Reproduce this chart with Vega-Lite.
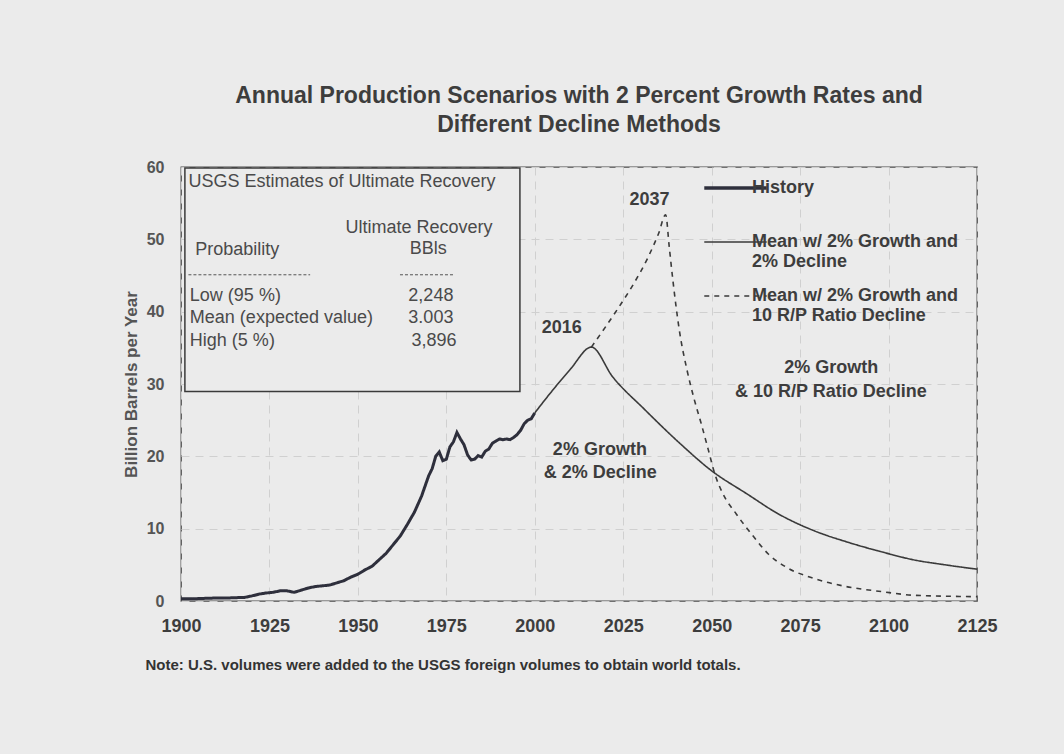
{
  "$schema": "https://vega.github.io/schema/vega-lite/v6.json",
  "width": 796,
  "height": 434,
  "autosize": {"type": "none"},
  "padding": {"left": 181, "top": 167, "right": 87, "bottom": 153},
  "background": "#ebebeb",
  "title": {
    "text": ["Annual Production Scenarios with 2 Percent Growth Rates and", "Different Decline Methods"],
    "font": "Liberation Sans",
    "fontSize": 23,
    "fontWeight": "bold",
    "color": "#3d3d3d",
    "anchor": "middle",
    "offset": 22,
    "lineHeight": 29
  },
  "config": {
    "font": "Liberation Sans",
    "view": {"stroke": "#4a4a4a", "strokeWidth": 1.3, "fill": "#ebebeb"},
    "legend": {"symbolSize": 3900, "symbolType": "stroke"}
  },
  "datasets": {
    "history": [
      {"series": "History", "year": 1900, "value": 0.3},
      {"series": "History", "year": 1903, "value": 0.3},
      {"series": "History", "year": 1906, "value": 0.35},
      {"series": "History", "year": 1909, "value": 0.4},
      {"series": "History", "year": 1912, "value": 0.4},
      {"series": "History", "year": 1915, "value": 0.45},
      {"series": "History", "year": 1918, "value": 0.5},
      {"series": "History", "year": 1920, "value": 0.7},
      {"series": "History", "year": 1922, "value": 0.95},
      {"series": "History", "year": 1924, "value": 1.1},
      {"series": "History", "year": 1926, "value": 1.2},
      {"series": "History", "year": 1928, "value": 1.4},
      {"series": "History", "year": 1930, "value": 1.4},
      {"series": "History", "year": 1932, "value": 1.2},
      {"series": "History", "year": 1934, "value": 1.5},
      {"series": "History", "year": 1936, "value": 1.8},
      {"series": "History", "year": 1938, "value": 2.0},
      {"series": "History", "year": 1940, "value": 2.1},
      {"series": "History", "year": 1942, "value": 2.2},
      {"series": "History", "year": 1944, "value": 2.5},
      {"series": "History", "year": 1946, "value": 2.8},
      {"series": "History", "year": 1948, "value": 3.3},
      {"series": "History", "year": 1950, "value": 3.7},
      {"series": "History", "year": 1952, "value": 4.3},
      {"series": "History", "year": 1954, "value": 4.8},
      {"series": "History", "year": 1956, "value": 5.7},
      {"series": "History", "year": 1958, "value": 6.6},
      {"series": "History", "year": 1960, "value": 7.8},
      {"series": "History", "year": 1962, "value": 9.0},
      {"series": "History", "year": 1964, "value": 10.6},
      {"series": "History", "year": 1966, "value": 12.3},
      {"series": "History", "year": 1968, "value": 14.5},
      {"series": "History", "year": 1970, "value": 17.3},
      {"series": "History", "year": 1971, "value": 18.3},
      {"series": "History", "year": 1972, "value": 20.0},
      {"series": "History", "year": 1973, "value": 20.6},
      {"series": "History", "year": 1974, "value": 19.4},
      {"series": "History", "year": 1975, "value": 19.6},
      {"series": "History", "year": 1976, "value": 21.3},
      {"series": "History", "year": 1977, "value": 22.0},
      {"series": "History", "year": 1978, "value": 23.3},
      {"series": "History", "year": 1979, "value": 22.4},
      {"series": "History", "year": 1980, "value": 21.6},
      {"series": "History", "year": 1981, "value": 20.2},
      {"series": "History", "year": 1982, "value": 19.5},
      {"series": "History", "year": 1983, "value": 19.6},
      {"series": "History", "year": 1984, "value": 20.1},
      {"series": "History", "year": 1985, "value": 19.9},
      {"series": "History", "year": 1986, "value": 20.7},
      {"series": "History", "year": 1987, "value": 21.0},
      {"series": "History", "year": 1988, "value": 21.8},
      {"series": "History", "year": 1989, "value": 22.1},
      {"series": "History", "year": 1990, "value": 22.4},
      {"series": "History", "year": 1991, "value": 22.3},
      {"series": "History", "year": 1992, "value": 22.4},
      {"series": "History", "year": 1993, "value": 22.3},
      {"series": "History", "year": 1994, "value": 22.6},
      {"series": "History", "year": 1995, "value": 23.0},
      {"series": "History", "year": 1996, "value": 23.6},
      {"series": "History", "year": 1997, "value": 24.5},
      {"series": "History", "year": 1998, "value": 25.0},
      {"series": "History", "year": 1999, "value": 25.2},
      {"series": "History", "year": 2000, "value": 26.0}
    ],
    "projection": [
      {"series": "Mean w/ 2% Growth and 2% Decline", "year": 2000, "value": 26.0},
      {"series": "Mean w/ 2% Growth and 2% Decline", "year": 2004, "value": 28.5},
      {"series": "Mean w/ 2% Growth and 2% Decline", "year": 2010, "value": 32.0},
      {"series": "Mean w/ 2% Growth and 2% Decline", "year": 2016, "value": 35.1},
      {"series": "Mean w/ 2% Growth and 2% Decline", "year": 2022, "value": 31.0},
      {"series": "Mean w/ 2% Growth and 2% Decline", "year": 2031, "value": 26.5},
      {"series": "Mean w/ 2% Growth and 2% Decline", "year": 2041, "value": 21.8},
      {"series": "Mean w/ 2% Growth and 2% Decline", "year": 2050, "value": 18.0},
      {"series": "Mean w/ 2% Growth and 2% Decline", "year": 2060, "value": 14.8},
      {"series": "Mean w/ 2% Growth and 2% Decline", "year": 2069, "value": 12.0},
      {"series": "Mean w/ 2% Growth and 2% Decline", "year": 2079, "value": 9.7},
      {"series": "Mean w/ 2% Growth and 2% Decline", "year": 2088, "value": 8.2},
      {"series": "Mean w/ 2% Growth and 2% Decline", "year": 2098, "value": 6.8},
      {"series": "Mean w/ 2% Growth and 2% Decline", "year": 2107, "value": 5.7},
      {"series": "Mean w/ 2% Growth and 2% Decline", "year": 2116, "value": 5.0},
      {"series": "Mean w/ 2% Growth and 2% Decline", "year": 2125, "value": 4.4},
      {"series": "Mean w/ 2% Growth and 10 R/P Ratio Decline", "year": 2016, "value": 35.1},
      {"series": "Mean w/ 2% Growth and 10 R/P Ratio Decline", "year": 2020, "value": 37.9},
      {"series": "Mean w/ 2% Growth and 10 R/P Ratio Decline", "year": 2024, "value": 40.8},
      {"series": "Mean w/ 2% Growth and 10 R/P Ratio Decline", "year": 2028, "value": 43.9},
      {"series": "Mean w/ 2% Growth and 10 R/P Ratio Decline", "year": 2032, "value": 47.5},
      {"series": "Mean w/ 2% Growth and 10 R/P Ratio Decline", "year": 2035, "value": 50.8},
      {"series": "Mean w/ 2% Growth and 10 R/P Ratio Decline", "year": 2037, "value": 53.4},
      {"series": "Mean w/ 2% Growth and 10 R/P Ratio Decline", "year": 2038, "value": 49.0},
      {"series": "Mean w/ 2% Growth and 10 R/P Ratio Decline", "year": 2039, "value": 44.5},
      {"series": "Mean w/ 2% Growth and 10 R/P Ratio Decline", "year": 2041, "value": 37.0},
      {"series": "Mean w/ 2% Growth and 10 R/P Ratio Decline", "year": 2043, "value": 32.0},
      {"series": "Mean w/ 2% Growth and 10 R/P Ratio Decline", "year": 2045, "value": 28.0},
      {"series": "Mean w/ 2% Growth and 10 R/P Ratio Decline", "year": 2047, "value": 24.6},
      {"series": "Mean w/ 2% Growth and 10 R/P Ratio Decline", "year": 2049, "value": 21.0},
      {"series": "Mean w/ 2% Growth and 10 R/P Ratio Decline", "year": 2051, "value": 17.4},
      {"series": "Mean w/ 2% Growth and 10 R/P Ratio Decline", "year": 2053, "value": 15.0},
      {"series": "Mean w/ 2% Growth and 10 R/P Ratio Decline", "year": 2057, "value": 12.0},
      {"series": "Mean w/ 2% Growth and 10 R/P Ratio Decline", "year": 2062, "value": 8.8},
      {"series": "Mean w/ 2% Growth and 10 R/P Ratio Decline", "year": 2066, "value": 6.5},
      {"series": "Mean w/ 2% Growth and 10 R/P Ratio Decline", "year": 2071, "value": 4.7},
      {"series": "Mean w/ 2% Growth and 10 R/P Ratio Decline", "year": 2079, "value": 3.1},
      {"series": "Mean w/ 2% Growth and 10 R/P Ratio Decline", "year": 2088, "value": 2.0},
      {"series": "Mean w/ 2% Growth and 10 R/P Ratio Decline", "year": 2098, "value": 1.3},
      {"series": "Mean w/ 2% Growth and 10 R/P Ratio Decline", "year": 2107, "value": 0.8},
      {"series": "Mean w/ 2% Growth and 10 R/P Ratio Decline", "year": 2125, "value": 0.6}
    ],
    "box": [
      {"x1": 1901.1, "x2": 1995.8, "y1": 59.85, "y2": 28.95}
    ],
    "separators": [
      {"x1": 1902.1, "x2": 1936.5, "y": 45.1},
      {"x1": 1961.9, "x2": 1977.4, "y": 45.1}
    ],
    "boxLeft": [
      {"label": "USGS Estimates of Ultimate Recovery", "year": 1902.1, "value": 57.9},
      {"label": "Probability", "year": 1904.0, "value": 48.5},
      {"label": "Low (95 %)", "year": 1902.5, "value": 42.1},
      {"label": "Mean (expected value)", "year": 1902.5, "value": 39.1},
      {"label": "High (5 %)", "year": 1902.5, "value": 35.9}
    ],
    "boxCenter": [
      {"label": "Ultimate Recovery", "year": 1967.3, "value": 51.5},
      {"label": "BBls", "year": 1969.9, "value": 48.6}
    ],
    "boxRight": [
      {"label": "2,248", "year": 1977.0, "value": 42.1},
      {"label": "3.003", "year": 1977.0, "value": 39.1},
      {"label": "3,896", "year": 1977.9, "value": 35.9}
    ],
    "annotations": [
      {"label": "2016", "year": 2007.6, "value": 37.7},
      {"label": "2037", "year": 2032.4, "value": 55.5},
      {"label": "2% Growth", "year": 2018.4, "value": 20.9},
      {"label": "& 2% Decline", "year": 2018.5, "value": 17.7},
      {"label": "2% Growth", "year": 2083.8, "value": 32.2},
      {"label": "& 10 R/P Ratio Decline", "year": 2083.7, "value": 28.95}
    ]
  },
  "encoding": {
    "x": {
      "field": "year", "type": "quantitative",
      "scale": {"domain": [1900, 2125], "nice": false, "zero": false},
      "axis": {
        "values": [1900, 1925, 1950, 1975, 2000, 2025, 2050, 2075, 2100, 2125],
        "format": "d", "labelFlush": false,
        "labelFontSize": 18, "labelFontWeight": "bold", "labelColor": "#3d3d3d",
        "labelPadding": 16, "ticks": false, "domain": false,
        "grid": true, "gridColor": "#d0d0d0", "gridDash": [8, 6],
        "title": "Note:  U.S. volumes were added to the USGS foreign volumes to obtain world totals.",
        "titleFontSize": 15, "titleFontWeight": "bold", "titleColor": "#333333",
        "titleAnchor": "start", "titleAlign": "left", "titleBaseline": "middle",
        "titleX": -36, "titleY": 63
      }
    },
    "y": {
      "field": "value", "type": "quantitative",
      "scale": {"domain": [0, 60], "nice": false},
      "axis": {
        "values": [0, 10, 20, 30, 40, 50, 60], "labelFlush": false,
        "labelFontSize": 16, "labelFontWeight": "bold", "labelColor": "#555555",
        "labelPadding": 17, "ticks": false, "domain": false,
        "grid": true, "gridColor": "#d0d0d0", "gridDash": [8, 6],
        "title": "Billion Barrels per Year",
        "titleFontSize": 17, "titleFontWeight": "bold", "titleColor": "#555555",
        "titlePadding": 6
      }
    }
  },
  "layer": [
    {
      "data": {"name": "history"},
      "mark": {"type": "line", "interpolate": "linear", "strokeWidth": 3},
      "encoding": {
        "color": {
          "field": "series", "type": "nominal",
          "scale": {
            "domain": ["History", "Mean w/ 2% Growth and 2% Decline", "Mean w/ 2% Growth and 10 R/P Ratio Decline"],
            "range": ["#2e2f3c", "#3a3a3a", "#3a3a3a"]
          },
          "legend": {
            "orient": "none", "legendX": 545.5, "legendY": 12,
            "title": null,
            "symbolType": "stroke", "symbolSize": 3900, "symbolStrokeWidth": 1.6,
            "labelFontSize": 18, "labelFontWeight": "bold", "labelColor": "#3d3d3d",
            "labelOffset": 7.5, "rowPadding": 16, "labelLimit": 400, "labelBaseline": "middle",
            "labelExpr": "datum.value == 'History' ? ['History', ' '] : datum.value == 'Mean w/ 2% Growth and 2% Decline' ? ['Mean w/ 2% Growth and', '2% Decline'] : ['Mean w/ 2% Growth and', '10 R/P Ratio Decline']",
            "encode": {"symbols": {"update": {"strokeWidth": {"signal": "datum.value === 'History' ? 3.5 : 1.6"}}}}
          }
        },
        "strokeDash": {
          "field": "series", "type": "nominal",
          "scale": {
            "domain": ["History", "Mean w/ 2% Growth and 2% Decline", "Mean w/ 2% Growth and 10 R/P Ratio Decline"],
            "range": [[1, 0], [1, 0], [5, 5]]
          },
          "legend": {
            "orient": "none", "legendX": 545.5, "legendY": 12,
            "title": null,
            "symbolType": "stroke", "symbolSize": 3900, "symbolStrokeWidth": 1.6,
            "labelFontSize": 18, "labelFontWeight": "bold", "labelColor": "#3d3d3d",
            "labelOffset": 7.5, "rowPadding": 16, "labelLimit": 400, "labelBaseline": "middle",
            "labelExpr": "datum.value == 'History' ? ['History', ' '] : datum.value == 'Mean w/ 2% Growth and 2% Decline' ? ['Mean w/ 2% Growth and', '2% Decline'] : ['Mean w/ 2% Growth and', '10 R/P Ratio Decline']",
            "encode": {"symbols": {"update": {"strokeWidth": {"signal": "datum.value === 'History' ? 3.5 : 1.6"}}}}
          }
        }
      }
    },
    {
      "data": {"name": "projection"},
      "mark": {"type": "line", "interpolate": "monotone", "strokeWidth": 1.6},
      "encoding": {
        "color": {"field": "series", "type": "nominal"},
        "strokeDash": {"field": "series", "type": "nominal"}
      }
    },
    {
      "data": {"name": "box"},
      "mark": {"type": "rect", "fill": "#ebebeb", "stroke": "#3a3a3a", "strokeWidth": 1.5},
      "encoding": {
        "x": {"field": "x1", "type": "quantitative"},
        "x2": {"field": "x2"},
        "y": {"field": "y1", "type": "quantitative"},
        "y2": {"field": "y2"}
      }
    },
    {
      "data": {"name": "separators"},
      "mark": {"type": "rule", "color": "#555555", "strokeWidth": 1, "strokeDash": [3, 2]},
      "encoding": {
        "x": {"field": "x1", "type": "quantitative"},
        "x2": {"field": "x2"},
        "y": {"field": "y", "type": "quantitative"}
      }
    },
    {
      "data": {"name": "boxLeft"},
      "mark": {"type": "text", "align": "left", "baseline": "middle", "fontSize": 18, "color": "#4a4a4a"},
      "encoding": {"text": {"field": "label"}}
    },
    {
      "data": {"name": "boxCenter"},
      "mark": {"type": "text", "align": "center", "baseline": "middle", "fontSize": 18, "color": "#4a4a4a"},
      "encoding": {"text": {"field": "label"}}
    },
    {
      "data": {"name": "boxRight"},
      "mark": {"type": "text", "align": "right", "baseline": "middle", "fontSize": 18, "color": "#4a4a4a"},
      "encoding": {"text": {"field": "label"}}
    },
    {
      "data": {"name": "annotations"},
      "mark": {"type": "text", "align": "center", "baseline": "middle", "fontSize": 18, "fontWeight": "bold", "color": "#3d3d3d"},
      "encoding": {"text": {"field": "label"}}
    }
  ]
}
